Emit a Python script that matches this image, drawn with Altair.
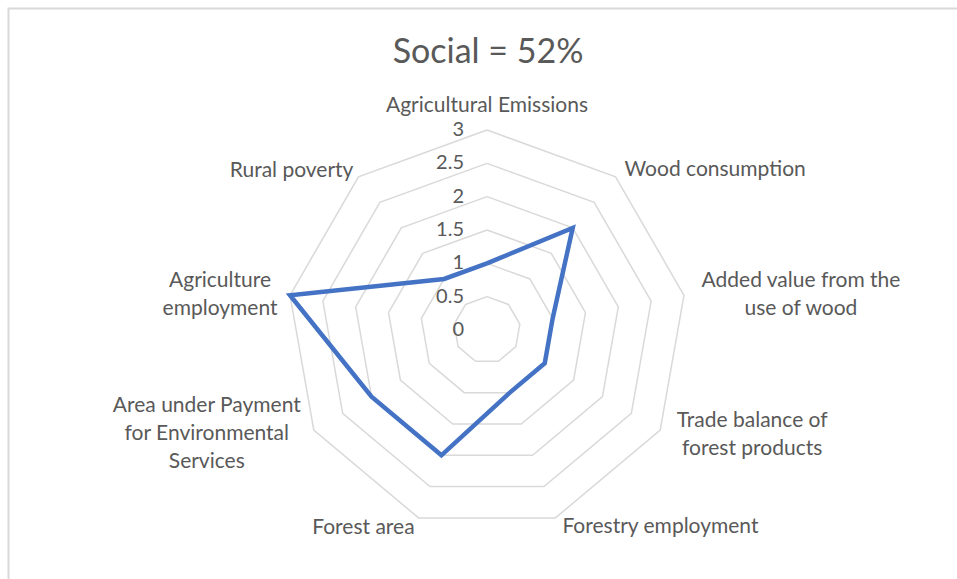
import math

import altair as alt
import pandas as pd

# Indicator scores (0-3) for the social dimension, clockwise from the top
categories = [
    "Agricultural Emissions",
    "Wood consumption",
    "Added value from the use of wood",
    "Trade balance of forest products",
    "Forestry employment",
    "Forest area",
    "Area under Payment for Environmental Services",
    "Agriculture employment",
    "Rural poverty",
]
category_lines = [
    "Agricultural Emissions",
    "Wood consumption",
    "Added value from the\nuse of wood",
    "Trade balance of\nforest products",
    "Forestry employment",
    "Forest area",
    "Area under Payment\nfor Environmental\nServices",
    "Agriculture\nemployment",
    "Rural poverty",
]
scores = [1, 2, 1, 1, 1, 2, 2, 3, 1]
max_score = 3
ring_levels = [0.5, 1, 1.5, 2, 2.5, 3]
tick_values = [0, 0.5, 1, 1.5, 2, 2.5, 3]
tick_labels = ["0", "0.5", "1", "1.5", "2", "2.5", "3"]

share = round(100 * sum(scores) / (max_score * len(scores)))
title_text = f"Social = {share}%"

# ---- layout -------------------------------------------------------------
W, H = 957, 579
CX, CY = 487, 330          # centre of the radar in pixels
R_PX = 200                 # pixel radius of the outer ring
unit = R_PX / max_score
x_dom = [-CX / unit, (W - CX) / unit]
y_dom = [-(H - CY) / unit, CY / unit]

FONT = "Lato"
TEXT = "#595959"
GRID = "#d9d9d9"
LINE = "#4472C4"

n = len(categories)
xs = alt.X("x:Q", scale=alt.Scale(domain=x_dom, nice=False, zero=False), axis=None)
ys = alt.Y("y:Q", scale=alt.Scale(domain=y_dom, nice=False, zero=False), axis=None)
polar = dict(
    ang=f"datum.spoke * 2 * PI / {n}",
)


def to_xy(chart, radius_field):
    return chart.transform_calculate(**polar).transform_calculate(
        x=f"datum.{radius_field} * sin(datum.ang)",
        y=f"datum.{radius_field} * cos(datum.ang)",
    )


# ---- tables -------------------------------------------------------------
series_df = pd.DataFrame(
    {
        "k": list(range(n + 1)),
        "spoke": [i % n for i in range(n + 1)],
        "value": [scores[i % n] for i in range(n + 1)],
    }
)
ring_df = pd.DataFrame(
    [
        {"level": lv, "k": k, "spoke": k % n}
        for lv in ring_levels
        for k in range(n + 1)
    ]
)
tick_df = pd.DataFrame({"value": tick_values, "label": tick_labels, "spoke": 0})
cat_df = pd.DataFrame(
    {
        "category": categories,
        "text": category_lines,
        "spoke": list(range(n)),
        "outer": max_score,
    }
)

# ---- layers -------------------------------------------------------------
rings = to_xy(alt.Chart(ring_df), "level").mark_line(
    color=GRID, strokeWidth=1.5
).encode(x=xs, y=ys, detail="level:N", order="k:Q")

series = to_xy(alt.Chart(series_df), "value").mark_line(
    color=LINE, strokeWidth=4.5, strokeJoin="miter"
).encode(x=xs, y=ys, order="k:Q")

ticks = to_xy(alt.Chart(tick_df), "value").mark_text(
    align="right", baseline="middle", dx=-23, font=FONT, fontSize=20, color=TEXT
).encode(x=xs, y=ys, text="label:N")

# placement of each category label relative to its outer-ring vertex
label_place = {
    "Agricultural Emissions": ("center", 0, -18),
    "Wood consumption": ("left", 9, -1),
    "Added value from the use of wood": ("center", 117, -8),
    "Trade balance of forest products": ("center", 92, -3),
    "Forestry employment": ("left", 7, 15),
    "Forest area": ("right", -4, 16),
    "Area under Payment for Environmental Services": ("center", -107, -18),
    "Agriculture employment": ("center", -70, -8),
    "Rural poverty": ("right", -5, 0),
}

label_layers = []
for cat in categories:
    align, dx, dy = label_place[cat]
    label_layers.append(
        to_xy(alt.Chart(cat_df).transform_filter(alt.datum.category == cat), "outer")
        .mark_text(
            align=align,
            baseline="alphabetic",
            dx=dx,
            dy=dy,
            lineBreak="\n",
            lineHeight=28,
            font=FONT,
            fontSize=21,
            color=TEXT,
        )
        .encode(x=xs, y=ys, text="text:N")
    )

title = alt.Chart(pd.DataFrame({"t": [title_text]})).mark_text(
    align="center", baseline="alphabetic", font=FONT, fontSize=34, color=TEXT
).encode(x=alt.value(488), y=alt.value(63), text="t:N")

frame = alt.Chart(pd.DataFrame({"f": [0]})).mark_rect(
    fill=None, stroke=GRID, strokeWidth=2
).encode(x=alt.value(8.5), y=alt.value(8.5), x2=alt.value(W + 20), y2=alt.value(H + 20))

chart = (
    alt.layer(frame, rings, series, ticks, *label_layers, title)
    .properties(
        width=W,
        height=H,
        padding=0,
        autosize=alt.AutoSizeParams(type="none"),
        background="white",
    )
    .configure_view(stroke=None)
)

chart.save("out.html", embed_options={"renderer": "svg", "actions": False})
